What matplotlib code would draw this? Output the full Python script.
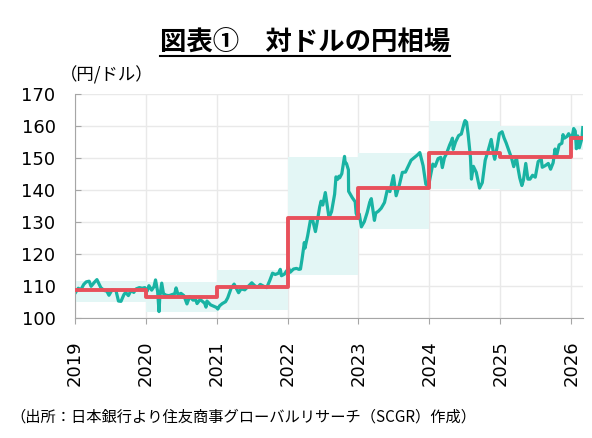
import pandas as pd
import matplotlib
matplotlib.use("Agg")
import matplotlib.pyplot as plt
from matplotlib.lines import Line2D

# daily USD/JPY (approximate)
fx_dates = [
    "2019-01-04", "2019-01-18", "2019-01-31", "2019-02-15", "2019-02-28", "2019-03-15",
    "2019-03-25", "2019-04-10", "2019-04-24", "2019-05-14", "2019-05-31", "2019-06-14",
    "2019-06-25", "2019-07-10", "2019-07-31", "2019-08-13", "2019-08-26", "2019-09-10",
    "2019-09-19", "2019-10-03", "2019-10-17", "2019-10-31", "2019-11-12", "2019-11-29",
    "2019-12-13", "2019-12-27",
    "2020-01-08", "2020-01-17", "2020-01-31", "2020-02-12", "2020-02-20", "2020-03-02",
    "2020-03-09", "2020-03-13", "2020-03-23", "2020-04-01", "2020-04-15", "2020-04-30",
    "2020-05-15", "2020-05-29", "2020-06-05", "2020-06-15", "2020-06-30", "2020-07-15",
    "2020-07-31", "2020-08-14", "2020-08-31", "2020-09-15", "2020-09-21", "2020-10-07",
    "2020-10-30", "2020-11-06", "2020-11-11", "2020-11-30", "2020-12-15", "2020-12-30",
    "2021-01-06", "2021-01-15", "2021-01-29", "2021-02-15", "2021-02-26", "2021-03-15",
    "2021-03-31", "2021-04-15", "2021-04-23", "2021-05-06", "2021-05-25", "2021-06-15",
    "2021-06-30", "2021-07-15", "2021-07-30", "2021-08-13", "2021-08-31", "2021-09-15",
    "2021-09-30", "2021-10-15", "2021-10-29", "2021-11-15", "2021-11-24", "2021-11-30",
    "2021-12-15", "2021-12-30",
    "2022-01-04", "2022-01-14", "2022-01-31", "2022-02-15", "2022-02-28", "2022-03-08",
    "2022-03-16", "2022-03-28", "2022-03-31", "2022-04-14", "2022-04-28", "2022-05-09",
    "2022-05-24", "2022-06-01", "2022-06-15", "2022-06-22", "2022-07-01", "2022-07-14",
    "2022-08-02", "2022-08-15", "2022-08-31", "2022-09-07", "2022-09-15", "2022-09-22",
    "2022-09-26", "2022-10-07", "2022-10-21", "2022-10-24", "2022-10-31", "2022-11-10",
    "2022-11-11", "2022-11-30", "2022-12-15", "2022-12-20", "2022-12-30",
    "2023-01-05", "2023-01-16", "2023-01-31", "2023-02-15", "2023-02-28", "2023-03-08",
    "2023-03-24", "2023-03-31", "2023-04-14", "2023-04-28", "2023-05-15", "2023-05-30",
    "2023-06-12", "2023-06-30", "2023-07-14", "2023-07-31", "2023-08-15", "2023-08-31",
    "2023-09-15", "2023-09-29", "2023-10-03", "2023-10-31", "2023-11-13", "2023-11-30",
    "2023-12-14", "2023-12-28",
    "2024-01-04", "2024-01-19", "2024-01-31", "2024-02-15", "2024-02-29", "2024-03-08",
    "2024-03-19", "2024-03-29", "2024-04-15", "2024-04-26", "2024-04-29", "2024-05-03",
    "2024-05-15", "2024-05-31", "2024-06-14", "2024-06-28", "2024-07-03", "2024-07-11",
    "2024-07-19", "2024-07-31", "2024-08-05", "2024-08-15", "2024-08-30", "2024-09-16",
    "2024-09-30", "2024-10-15", "2024-10-31", "2024-11-15", "2024-11-29", "2024-12-03",
    "2024-12-16", "2024-12-27",
    "2025-01-10", "2025-01-20", "2025-01-31", "2025-02-14", "2025-02-28", "2025-03-11",
    "2025-03-25", "2025-04-03", "2025-04-11", "2025-04-22", "2025-04-30", "2025-05-12",
    "2025-05-23", "2025-06-03", "2025-06-16", "2025-06-30", "2025-07-15", "2025-07-31",
    "2025-08-05", "2025-08-20", "2025-09-05", "2025-09-17", "2025-09-30", "2025-10-10",
    "2025-10-17", "2025-10-31", "2025-11-14", "2025-11-20", "2025-11-27", "2025-12-10",
    "2025-12-19", "2025-12-30",
    "2026-01-06", "2026-01-14", "2026-01-22", "2026-01-28", "2026-02-04", "2026-02-12",
    "2026-02-20", "2026-02-26", "2026-03-02",
]
fx_values = [
    108.0, 109.3, 108.8, 110.5, 111.3, 111.5,
    109.9, 111.1, 112.0, 109.5, 108.6, 108.4,
    107.1, 108.7, 108.6, 105.3, 105.2, 107.3,
    108.0, 107.0, 108.6, 108.0, 109.1, 109.5,
    109.3, 109.5,
    108.4, 110.1, 108.7, 109.8, 111.9, 108.2,
    102.0, 106.5, 110.9, 107.6, 107.1, 107.0,
    107.3, 107.6, 109.4, 107.3, 107.7, 107.0,
    104.4, 106.7, 105.6, 105.6, 104.5, 105.8,
    104.6, 103.4, 105.3, 104.1, 103.7, 103.3,
    102.8, 103.8, 104.5, 105.1, 106.3, 109.2,
    110.6, 108.8, 107.9, 109.1, 108.8, 110.1,
    111.0, 110.1, 109.6, 110.5, 109.9, 109.5,
    111.6, 114.0, 113.6, 114.0, 115.2, 113.2,
    113.7, 115.0,
    115.9, 114.3, 115.3, 115.5, 115.2, 115.3,
    118.4, 123.6, 121.8, 125.7, 130.5, 130.8,
    127.0, 129.6, 134.7, 136.5, 135.3, 139.2,
    131.4, 133.2, 138.7, 144.1, 143.3, 144.3,
    143.8, 145.1, 150.5, 148.6, 148.3, 146.3,
    139.6, 137.6, 136.3, 132.7, 131.1,
    132.5, 128.5, 130.1, 133.0, 136.2, 137.3,
    130.5, 132.8, 133.4, 134.3, 136.1, 140.2,
    139.5, 144.5, 138.2, 141.7, 145.5, 145.6,
    147.5, 149.3, 149.5, 150.9, 151.7, 147.6,
    141.8, 141.2,
    143.5, 148.1, 147.4, 149.8, 150.2, 147.0,
    150.1, 151.3, 154.1, 155.6, 156.2, 152.7,
    155.0, 157.0, 157.5, 160.8, 161.7, 161.2,
    157.4, 150.2, 143.4, 147.4, 145.5, 140.6,
    142.3, 149.3, 152.5, 155.8, 150.6, 149.6,
    153.6, 157.6,
    158.2, 156.3, 154.7, 152.3, 149.9, 147.3,
    150.1, 146.5, 143.8, 141.4, 143.1, 148.3,
    143.4, 143.4, 144.6, 144.0, 148.9, 149.6,
    147.1, 147.6, 148.3, 146.5, 148.5, 152.8,
    150.5, 154.1, 154.6, 157.3, 156.2, 156.7,
    157.6, 156.4,
    156.6, 159.2, 158.4, 152.9, 156.9, 153.2,
    155.0, 156.3, 159.5,
]

years = [2019, 2020, 2021, 2022, 2023, 2024, 2025, 2026]
year_high = [111.6, 111.2, 115.0, 150.2, 151.7, 161.7, 160.1, 160.1]
year_low = [104.9, 101.8, 102.5, 113.4, 127.7, 140.2, 140.0, 152.5]
year_avg = [108.9, 106.5, 109.7, 131.2, 140.5, 151.7, 150.4, 156.2]
x_end = "2026-03-03"

title = "図表①　対ドルの円相場"
unit_label = "（円/ドル）"
source = "（出所：日本銀行より住友商事グローバルリサーチ（SCGR）作成）"

jp_font = ["Noto Sans CJK JP", "DejaVu Sans"]

W, H = 592, 438
fig = plt.figure(figsize=(W / 100, H / 100), dpi=100)
ax = fig.add_axes([75 / W, 1 - 318 / H, (583 - 75) / W, (318 - 94) / H])

dates = pd.to_datetime(fx_dates)
end = pd.Timestamp(x_end)
starts = [pd.Timestamp(f"{y}-01-01") for y in years]

# annual high-low range
for i in range(len(years)):
    x0 = starts[i]
    x1 = starts[i + 1] if i + 1 < len(years) else end
    ax.fill_between([x0, x1], year_low[i], year_high[i], color="#E3F6F5", lw=0, zorder=1)

ax.plot(dates, fx_values, color="#19B3A3", lw=2.3, zorder=2)

# annual average
ax.step(starts + [end], year_avg + [year_avg[-1]], where="post", color="#E8505B", lw=2.8, zorder=3)

ax.set_xlim(starts[0], end)
ax.set_ylim(100, 170)
ax.set_yticks(range(100, 171, 10))
ax.set_xticks(starts)
ax.set_xticklabels([str(y) for y in years], rotation=90)

ax.grid(True, color="#E9E9E9", lw=1)
ax.set_axisbelow(True)
for s in ["top", "right"]:
    ax.spines[s].set_visible(False)
for s in ["left", "bottom"]:
    ax.spines[s].set_color("#A6A6A6")
ax.tick_params(axis="y", direction="in", length=4, color="#A6A6A6", pad=14,
               labelsize=13, labelcolor="black")
ax.tick_params(axis="x", direction="out", length=4, color="#A6A6A6", pad=12,
               labelsize=13, labelcolor="black")

t = fig.text(305 / W, 1 - 43 / H, title, ha="center", va="center",
             fontsize=19, fontweight="bold", family=jp_font)
fig.text(60 / W, 1 - 75 / H, unit_label, ha="left", va="center",
         fontsize=12.5, family=jp_font)
fig.text(10 / W, 1 - 417 / H, source, ha="left", va="center",
         fontsize=11, family=jp_font)

# underline under the title
fig.canvas.draw()
bb = t.get_window_extent()
uy = H - 56
fig.add_artist(Line2D([bb.x0 / W, bb.x1 / W], [uy / H, uy / H], color="black",
                      lw=1.5, transform=fig.transFigure))

fig.savefig("out.png", dpi=100)
